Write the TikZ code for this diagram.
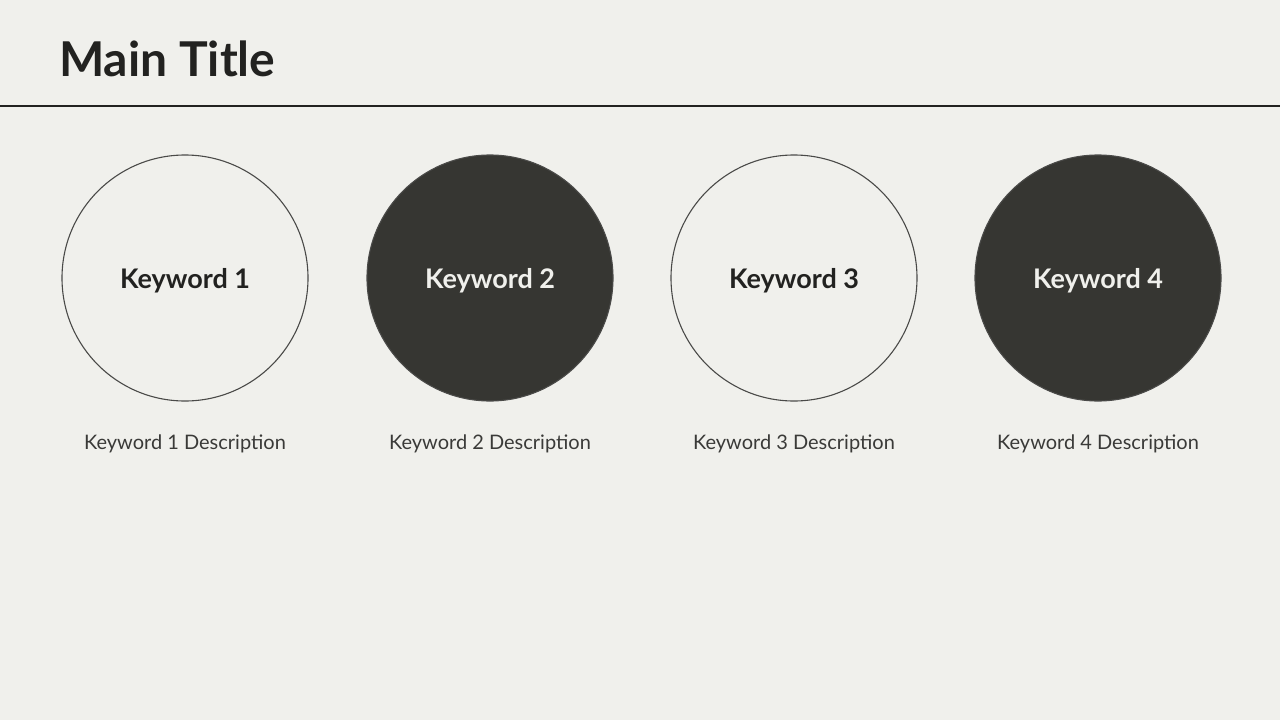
\documentclass[tikz,border=0pt]{standalone}
\usepackage{fontspec}
\setmainfont{Lato}
\definecolor{bg}{HTML}{F0F0EC}
\definecolor{ink}{HTML}{222220}
\definecolor{dark}{HTML}{363632}
\definecolor{ring}{HTML}{4A4A48}
\definecolor{light}{HTML}{F0F0EC}
\definecolor{desc}{HTML}{3A3A38}
\begin{document}
\begin{tikzpicture}[x=1pt,y=-1pt,
  ringc/.style={circle, draw=ring, line width=1.1pt, minimum size=246pt, inner sep=0pt, text=ink},
  fillc/.style={ringc, fill=dark, text=light},
  keytext/.style={font=\fontsize{27}{32}\selectfont\bfseries, anchor=base, inner sep=0pt},
  desctext/.style={font=\fontsize{20}{24}\selectfont, text=desc, anchor=base}]
\fill[bg] (0,0) rectangle (1280,720);
\useasboundingbox (0,0) rectangle (1280,720);
\node[anchor=base west, font=\fontsize{48}{58}\selectfont\bfseries, text=ink, inner sep=0pt] (title) at (59,76) {Main Title};
\coordinate (l0) at (0,106);
\coordinate (l1) at (1280,106);
\draw[ink, line width=1.2pt] (l0) -- (l1);
\node[ringc] (k1) at (185,278) {};
\node[fillc] (k2) at (490,278) {};
\node[ringc] (k3) at (794,278) {};
\node[fillc] (k4) at (1098,278) {};
\node[keytext, text=ink] (t1) at (185,288) {Keyword 1};
\node[keytext, text=light] (t2) at (490,288) {Keyword 2};
\node[keytext, text=ink] (t3) at (794,288) {Keyword 3};
\node[keytext, text=light] (t4) at (1098,288) {Keyword 4};
\node[desctext] (d1) at (185,449) {Keyword 1 Description};
\node[desctext] (d2) at (490,449) {Keyword 2 Description};
\node[desctext] (d3) at (794,449) {Keyword 3 Description};
\node[desctext] (d4) at (1098,449) {Keyword 4 Description};
\end{tikzpicture}
\end{document}
